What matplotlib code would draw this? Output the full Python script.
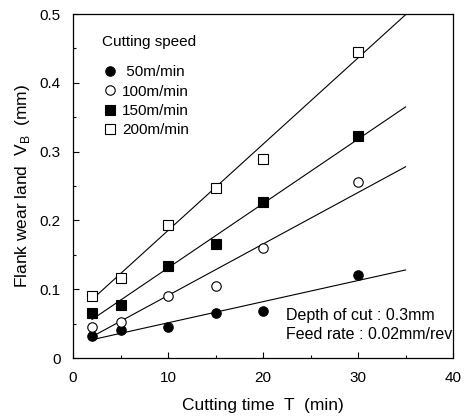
import matplotlib
matplotlib.use("Agg")
import matplotlib.pyplot as plt
from matplotlib.ticker import MultipleLocator

plt.rcParams['font.family'] = ['Liberation Sans', 'DejaVu Sans']
plt.rcParams['mathtext.fontset'] = 'custom'
plt.rcParams['mathtext.rm'] = 'Liberation Sans'

time_min = [2, 5, 10, 15, 20, 30]
speeds = [" 50m/min", "100m/min", "150m/min", "200m/min"]
wear_50 = [0.032, 0.040, 0.0445, 0.065, 0.068, 0.121]
wear_100 = [0.0445, 0.053, 0.0895, 0.105, 0.160, 0.2565]
wear_150 = [0.065, 0.077, 0.134, 0.166, 0.227, 0.323]
wear_200 = [0.0895, 0.117, 0.194, 0.247, 0.289, 0.445]

fit_T = [2, 35]
fit_50 = [0.0266, 0.128]
fit_100 = [0.031, 0.278]
fit_150 = [0.056, 0.365]
fit_200 = [0.085, 0.499]

fig = plt.figure(figsize=(4.71, 4.20), dpi=100)
ax = fig.add_axes([0.155, 0.1476, 0.807, 0.819])

series = [
    (wear_50, fit_50, 'o', 'black'),
    (wear_100, fit_100, 'o', 'white'),
    (wear_150, fit_150, 's', 'black'),
    (wear_200, fit_200, 's', 'white'),
]
for (vals, fit, mk, fc), lab in zip(series, speeds):
    ax.plot(fit_T, fit, color='black', lw=0.8, zorder=2)
    ax.plot(time_min, vals, linestyle='none', marker=mk, markersize=6.8,
            markerfacecolor=fc, markeredgecolor='black', markeredgewidth=0.8,
            label=lab, zorder=3)

ax.set_xlim(0, 40)
ax.set_ylim(0, 0.5)
ax.xaxis.set_major_locator(MultipleLocator(10))
ax.xaxis.set_minor_locator(MultipleLocator(5))
ax.yaxis.set_minor_locator(MultipleLocator(0.05))
ax.set_yticks([0, 0.1, 0.2, 0.3, 0.4, 0.5])
ax.set_yticklabels(['0', '0.1', '0.2', '0.3', '0.4', '0.5'])
ax.tick_params(which='both', direction='in', labelsize=11, width=0.8)
ax.tick_params(which='major', length=4, pad=9)
ax.tick_params(which='minor', length=2.5)
for s in ax.spines.values():
    s.set_linewidth(0.9)

ax.set_xlabel('Cutting time  T  (min)', fontsize=12.5, labelpad=10)
ax.set_ylabel(r'Flank wear land  V$_\mathrm{B}$  (mm)', fontsize=12.5, labelpad=5)

leg = ax.legend(title='Cutting speed', loc='upper left', bbox_to_anchor=(0.04, 0.98),
                frameon=False, fontsize=11, title_fontsize=11, handletextpad=0.3,
                handlelength=1.0, labelspacing=0.35, alignment='left')
leg._legend_box.sep = 12

ax.text(0.56, 0.125, 'Depth of cut : 0.3mm', transform=ax.transAxes, fontsize=11.5, va='center')
ax.text(0.56, 0.068, 'Feed rate : 0.02mm/rev', transform=ax.transAxes, fontsize=11.5, va='center')

fig.savefig('out.png', dpi=100)
